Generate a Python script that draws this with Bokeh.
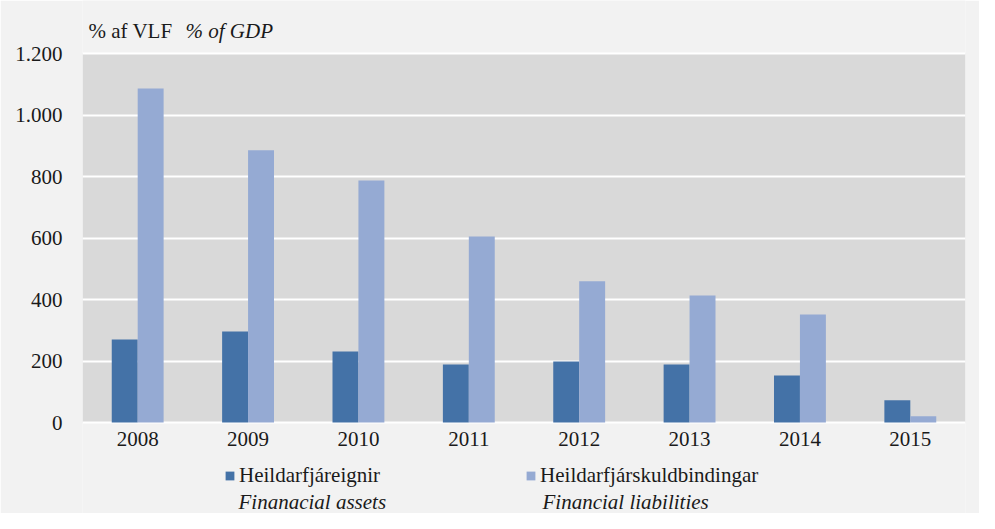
from bokeh.plotting import figure
from bokeh.models import (ColumnDataSource, FactorRange, Range1d, FixedTicker,
                          Legend, LegendItem, Label, BoxAnnotation)
from bokeh.core.properties import value
from bokeh.transform import dodge
from bokeh.embed import file_html
from bokeh.resources import INLINE

years = ["2008", "2009", "2010", "2011", "2012", "2013", "2014", "2015"]
assets = [270, 296, 231, 189, 198, 189, 153, 72]
liabilities = [1086, 885, 787, 605, 459, 413, 351, 20]
y_ticks = [0, 200, 400, 600, 800, 1000, 1200]
y_tick_labels = ["0", "200", "400", "600", "800", "1.000", "1.200"]
series_is = ["Heildarfjáreignir", "Heildarfjárskuldbindingar"]
series_en = ["Finanacial assets", "Financial liabilities"]
title_is = "% af VLF"
title_en = "% of GDP"

FONT = "Liberation Serif"
FS = "21px"
C_ASSETS = "#4472A7"
C_LIAB = "#95AAD3"
TXT = "#1a1a1a"

# layout (pixels): the frame fills the canvas height; the grey plot area is a band in it
W, H = 979, 513
AREA_TOP, AREA_BOTTOM = 53, 422
ymin, ymax = y_ticks[0], y_ticks[-1]
upp = (ymax - ymin) / (AREA_BOTTOM - AREA_TOP)
y_lo = ymin - (H - AREA_BOTTOM) * upp
y_hi = ymax + AREA_TOP * upp

src = ColumnDataSource(dict(year=years, assets=assets, liabilities=liabilities))

p = figure(width=W, height=H, x_range=FactorRange(*years),
           y_range=Range1d(y_lo, y_hi), output_backend="svg", toolbar_location=None,
           min_border_left=82, min_border_right=14, min_border_top=0, min_border_bottom=0)
p.x_range.range_padding = 0
p.background_fill_color = "#F2F2F2"
p.border_fill_color = "#F2F2F2"
p.outline_line_color = None

p.add_layout(BoxAnnotation(bottom=ymin, top=ymax, fill_color="#D9D9D9", fill_alpha=1,
                           line_color=None, level="image"))

w = 0.235
r1 = p.vbar(x=dodge("year", -w / 2, range=p.x_range), top="assets", width=w,
            source=src, fill_color=C_ASSETS, line_color=None)
r2 = p.vbar(x=dodge("year", w / 2, range=p.x_range), top="liabilities", width=w,
            source=src, fill_color=C_LIAB, line_color=None)

p.xgrid.grid_line_color = None
p.ygrid.ticker = FixedTicker(ticks=y_ticks)
p.ygrid.grid_line_color = "white"
p.ygrid.grid_line_width = 2

p.xaxis.visible = False
p.yaxis.ticker = FixedTicker(ticks=y_ticks)
p.yaxis.major_label_overrides = {t: l for t, l in zip(y_ticks, y_tick_labels)}
p.yaxis.major_tick_line_color = None
p.yaxis.minor_tick_line_color = None
p.yaxis.axis_line_color = None
p.yaxis.major_label_text_font = FONT
p.yaxis.major_label_text_font_size = FS
p.yaxis.major_label_text_color = TXT
p.yaxis.major_label_standoff = 14

# category labels under the plot area
p.text(x="year", y=ymin, text="year", source=src, text_align="center",
       text_baseline="top", y_offset=9, text_font=value(FONT),
       text_font_size=FS, text_color=TXT)

# title row
p.add_layout(Label(x=6, y=H - 30, x_units="screen", y_units="screen", text=title_is,
                   text_font=FONT, text_font_size=FS, text_color=TXT,
                   text_baseline="middle"))
p.add_layout(Label(x=103, y=H - 30, x_units="screen", y_units="screen", text=title_en,
                   text_font=FONT, text_font_size=FS, text_font_style="italic",
                   text_color=TXT, text_baseline="middle"))

legend = Legend(items=[LegendItem(label=series_is[0], renderers=[r1]),
                       LegendItem(label=series_is[1], renderers=[r2])],
                orientation="horizontal", location=(142, 25),
                background_fill_alpha=0, border_line_color=None,
                label_text_font=FONT, label_text_font_size=FS, label_text_color=TXT,
                glyph_width=11, glyph_height=11, label_standoff=4, spacing=145,
                padding=0, margin=0)
p.add_layout(legend, "center")

for txt, x in [(series_en[0], 156), (series_en[1], 460)]:
    p.add_layout(Label(x=x, y=12, x_units="screen", y_units="screen", text=txt,
                       text_font=FONT, text_font_size=FS, text_font_style="italic",
                       text_color=TXT, text_baseline="middle"))

open("out.html", "w").write(file_html(p, INLINE))
